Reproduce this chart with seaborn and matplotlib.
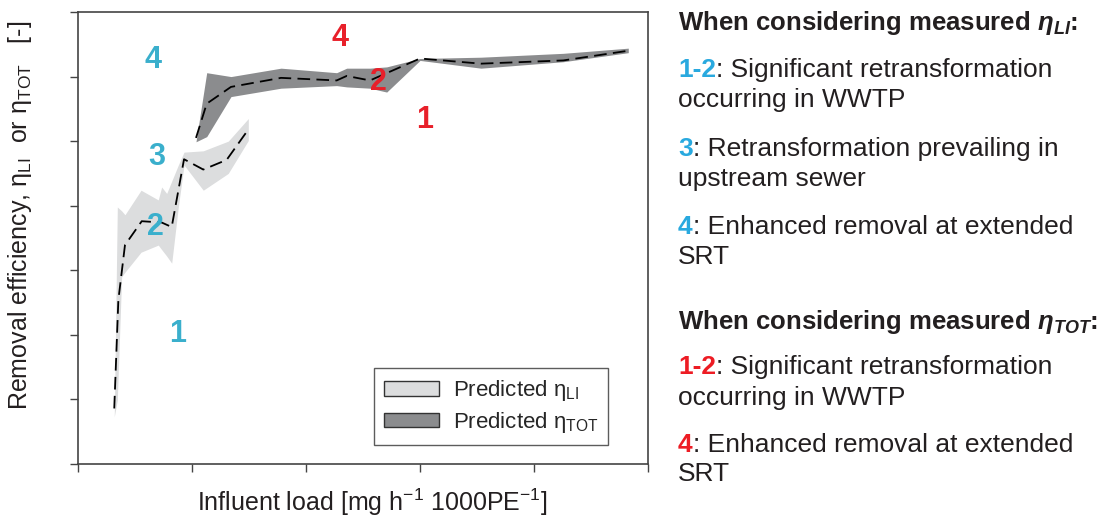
import matplotlib
matplotlib.use("Agg")
import pandas as pd
import matplotlib.pyplot as plt
from matplotlib.patches import Patch
import seaborn as sns

# predicted eta_LI band (light grey) and its median line
li_band_x = [31.8, 34.5, 38.3, 41.2, 55.3, 70.4, 73.4, 77.8, 82.2, 88.0, 93.0, 109.9, 131.8, 149.4]
li_band_hi = [0.373, 0.698, 0.692, 0.686, 0.724, 0.709, 0.729, 0.719, 0.738, 0.763, 0.783, 0.785, 0.800, 0.835]
li_band_lo = [0.373, 0.399, 0.590, 0.597, 0.628, 0.639, 0.632, 0.622, 0.611, 0.698, 0.763, 0.724, 0.750, 0.801]
li_line_x = [31.8, 35.4, 41.2, 55.9, 73.4, 82.2, 93.0, 109.9, 130.4, 149.4]
li_line_y = [0.386, 0.554, 0.639, 0.676, 0.674, 0.667, 0.772, 0.756, 0.771, 0.818]

# predicted eta_TOT band (dark grey) and its median line
tot_x = [103.5, 112.9, 134.2, 178.1, 226.9, 235.7, 256.1, 270.8, 300.0, 353.5, 425.7, 482.7]
tot_hi = [0.799, 0.906, 0.900, 0.913, 0.906, 0.913, 0.913, 0.915, 0.928, 0.930, 0.936, 0.944]
tot_lo = [0.799, 0.807, 0.869, 0.882, 0.886, 0.884, 0.882, 0.876, 0.925, 0.913, 0.923, 0.937]
tot_line_x = [103.5, 112.9, 134.2, 178.1, 226.9, 235.7, 256.1, 300.0, 353.5, 425.7, 482.7]
tot_line_y = [0.805, 0.858, 0.884, 0.898, 0.894, 0.901, 0.894, 0.928, 0.920, 0.925, 0.940]

# zone labels inside the plot
li_marks = ["4", "3", "2", "1"]
li_mark_x = [66.0, 69.5, 67.5, 87.7]
li_mark_y = [0.925, 0.775, 0.667, 0.502]
tot_marks = ["4", "2", "1"]
tot_mark_x = [229.8, 263.2, 304.4]
tot_mark_y = [0.960, 0.891, 0.832]

x_ticks = [0, 100, 200, 300, 400, 500]
y_ticks = [0.3, 0.4, 0.5, 0.6, 0.7, 0.8, 0.9, 1.0]

LIGHT = "#dcddde"
DARK = "#8b8c8e"
CYAN = "#3aafcc"
RED = "#e8202a"
TXT_CYAN = "#29a9df"
TXT_RED = "#ed1c24"
INK = "#231f20"

sns.set_style("ticks")
plt.rcParams["font.family"] = ["Liberation Sans", "DejaVu Sans"]
plt.rcParams["mathtext.fontset"] = "custom"
plt.rcParams["mathtext.rm"] = "Liberation Sans"
plt.rcParams["mathtext.it"] = "Liberation Sans:italic"
plt.rcParams["mathtext.bf"] = "Liberation Sans:bold"
plt.rcParams["mathtext.bfit"] = "Liberation Sans:italic:bold"

W, H = 1108, 522
fig = plt.figure(figsize=(W / 100, H / 100), dpi=100)
ax = fig.add_axes([78 / W, 1 - 464 / H, 570 / W, 452 / H])

ax.fill_between(li_band_x, li_band_lo, li_band_hi, color=LIGHT, lw=0)
ax.fill_between(tot_x, tot_lo, tot_hi, color=DARK, lw=0)

li_df = pd.DataFrame({"load": li_line_x, "eff": li_line_y})
tot_df = pd.DataFrame({"load": tot_line_x, "eff": tot_line_y})
sns.lineplot(data=li_df, x="load", y="eff", ax=ax, color="black", lw=1.3,
             linestyle=(0, (7, 3.5)), estimator=None, sort=False)
sns.lineplot(data=tot_df, x="load", y="eff", ax=ax, color="black", lw=1.3,
             linestyle=(0, (7, 3.5)), estimator=None, sort=False)

for s, x, y in zip(li_marks, li_mark_x, li_mark_y):
    ax.text(x, y, s, color=CYAN, fontsize=22, fontweight="bold", ha="center", va="center")
for s, x, y in zip(tot_marks, tot_mark_x, tot_mark_y):
    ax.text(x, y, s, color=RED, fontsize=22, fontweight="bold", ha="center", va="center")

ax.set_xlim(0, 500)
ax.set_ylim(0.3, 1.0)
ax.set_xticks(x_ticks)
ax.set_yticks(y_ticks)
ax.set_xticklabels([])
ax.set_yticklabels([])
ax.tick_params(direction="out", length=6, width=1, color="#444444")
for sp in ax.spines.values():
    sp.set_color("#444444")
    sp.set_linewidth(1.2)

ax.set_xlabel(r"Influent load [mg h$^{-1}$ 1000PE$^{-1}$]", fontsize=18, color=INK)
ax.xaxis.set_label_coords(0.516, -0.05)
ax.set_ylabel(r"Removal efficiency, η$_{\mathregular{LI}}$  or η$_{\mathregular{TOT}}$   [-]",
              fontsize=18, color=INK)
ax.yaxis.set_label_coords(-0.078, 0.55)

handles = [
    Patch(facecolor=LIGHT, edgecolor="#333333", lw=1, label=r"Predicted η$_{\mathregular{LI}}$"),
    Patch(facecolor=DARK, edgecolor="#333333", lw=1, label=r"Predicted η$_{\mathregular{TOT}}$"),
]
leg = ax.legend(handles=handles, loc="lower right", bbox_to_anchor=(0.93, 0.042),
                borderaxespad=0, fontsize=16, frameon=True, fancybox=False,
                handlelength=2.5, handleheight=0.6, borderpad=0.45,
                labelspacing=0.3, handletextpad=0.6)
leg.get_frame().set_edgecolor("#333333")
leg.get_frame().set_linewidth(1)


def side_line(y_px, prefix, color, rest):
    t = fig.text(678 / W, 1 - y_px / H, prefix, color=color, fontsize=19,
                 fontweight="bold", va="baseline")
    ax.annotate(rest, xy=(1, 0), xycoords=t, va="bottom", ha="left",
                fontsize=19, color=INK, annotation_clip=False)


def plain_line(y_px, txt):
    fig.text(678 / W, 1 - y_px / H, txt, color=INK, fontsize=19, va="baseline")


fig.text(678 / W, 1 - 30 / H, r"When considering measured $\mathbfit{\eta_{LI}}$:",
         fontsize=18.5, fontweight="bold", color=INK, va="baseline")
side_line(77, "1-2", TXT_CYAN, ": Significant retransformation")
plain_line(107, "occurring in WWTP")
side_line(156, "3", TXT_CYAN, ": Retransformation prevailing in")
plain_line(186, "upstream sewer")
side_line(234, "4", TXT_CYAN, ": Enhanced removal at extended")
plain_line(264, "SRT")

fig.text(678 / W, 1 - 329 / H, r"When considering measured $\mathbfit{\eta_{TOT}}$:",
         fontsize=18.5, fontweight="bold", color=INK, va="baseline")
side_line(374, "1-2", TXT_RED, ": Significant retransformation")
plain_line(405, "occurring in WWTP")
side_line(452, "4", TXT_RED, ": Enhanced removal at extended")
plain_line(481, "SRT")

fig.savefig("out.png", dpi=100)
